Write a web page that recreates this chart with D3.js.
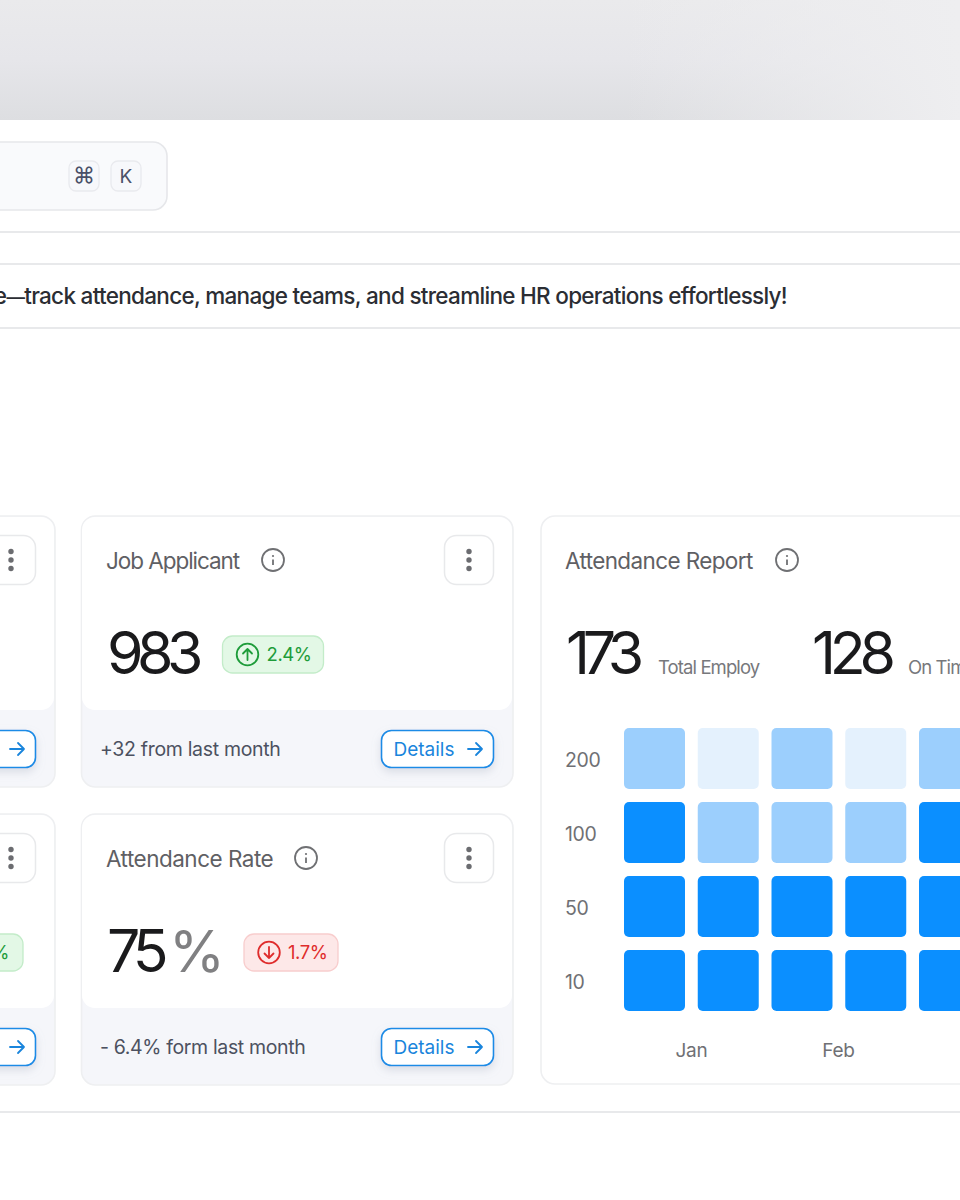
<!DOCTYPE html>
<html>
<head>
<meta charset="utf-8">
<script src="https://cdn.jsdelivr.net/npm/d3@7"></script>
<style>
  html, body { margin: 0; padding: 0; background: #fff; }
  svg { display: block; }
  text { font-family: Inter, "Noto Sans", sans-serif; }
</style>
</head>
<body>
<script>
// heatmap data: 0 = low, 1 = mid, 2 = high
const row_labels = ["200", "100", "50", "10"];
const col_index = [0, 1, 2, 3, 4];
const row_200 = [1, 0, 1, 0, 1];
const row_100 = [2, 1, 1, 1, 2];
const row_50 = [2, 2, 2, 2, 2];
const row_10 = [2, 2, 2, 2, 2];
const month_labels = ["Jan", "Feb"];

const width = 960, height = 1200;
const svg = d3.select("body").append("svg").attr("width", width).attr("height", height);
const defs = svg.append("defs");

// top grey band: darker towards the bottom, washed out at the right
const grad = defs.append("linearGradient").attr("id", "topband")
    .attr("x1", 0).attr("y1", 0).attr("x2", 0).attr("y2", 1);
grad.append("stop").attr("offset", "0%").attr("stop-color", "#eaeaec");
grad.append("stop").attr("offset", "50%").attr("stop-color", "#e6e6ea");
grad.append("stop").attr("offset", "100%").attr("stop-color", "#dddee1");
svg.append("rect").attr("width", width).attr("height", 120).attr("fill", "url(#topband)");

const wash = defs.append("linearGradient").attr("id", "topwash");
wash.append("stop").attr("offset", "65%").attr("stop-color", "#eeeef0").attr("stop-opacity", 0);
wash.append("stop").attr("offset", "100%").attr("stop-color", "#eeeef0").attr("stop-opacity", 1);
svg.append("rect").attr("width", width).attr("height", 120).attr("fill", "url(#topwash)");

const shadow = defs.append("filter").attr("id", "btnshadow")
    .attr("x", "-20%").attr("y", "-30%").attr("width", "140%").attr("height", "180%");
shadow.append("feDropShadow").attr("dx", 0).attr("dy", 4).attr("stdDeviation", 4)
    .attr("flood-color", "#9aa4b5").attr("flood-opacity", 0.3);

function label(x, y, str, size, color, spacing, weight) {
    return svg.append("text").attr("x", x).attr("y", y).text(str)
        .attr("font-size", size).attr("fill", color)
        .attr("letter-spacing", spacing || 0).attr("font-weight", weight || 400);
}

function hline(y) {
    svg.append("line").attr("x1", 0).attr("x2", width).attr("y1", y).attr("y2", y)
        .attr("stroke", "#e8e9eb").attr("stroke-width", 2);
}

function infoIcon(cx, cy) {
    const g = svg.append("g").attr("transform", `translate(${cx},${cy})`);
    g.append("circle").attr("r", 11).attr("fill", "none").attr("stroke", "#6f7073").attr("stroke-width", 1.8);
    g.append("circle").attr("cy", -4).attr("r", 1.1).attr("fill", "#6f7073");
    g.append("line").attr("y1", -0.5).attr("y2", 5).attr("stroke", "#6f7073").attr("stroke-width", 1.8);
}

function moreButton(x, y) {
    svg.append("rect").attr("x", x + 0.5).attr("y", y + 0.5).attr("width", 49).attr("height", 49).attr("rx", 12)
        .attr("fill", "#fff").attr("stroke", "#e8e9eb").attr("stroke-width", 1.5);
    [-8.5, 0, 8.5].forEach(d => {
        svg.append("circle").attr("cx", x + 25).attr("cy", y + 25 + d).attr("r", 2.7).attr("fill", "#6b6c70");
    });
}

function arrow(x, y, color) {
    svg.append("path").attr("d", `M${x - 7},${y} H${x + 7} M${x + 1},${y - 6} L${x + 7},${y} L${x + 1},${y + 6}`)
        .attr("fill", "none").attr("stroke", color).attr("stroke-width", 1.8)
        .attr("stroke-linecap", "round").attr("stroke-linejoin", "round");
}

function detailsButton(x, y) {
    svg.append("rect").attr("x", x + 0.5).attr("y", y + 0.5).attr("width", 112).attr("height", 37).attr("rx", 10)
        .attr("fill", "#fff").attr("stroke", "#1a8be6").attr("stroke-width", 1.6)
        .attr("filter", "url(#btnshadow)");
    label(x + 12.5, y + 26, "Details", 19, "#1a85dc", 0);
    arrow(x + 94, y + 19, "#1a85dc");
}

function badge(x, y, w, up, str) {
    const c = up ? {bg: "#e3f8e6", line: "#c3ecc9", ink: "#1e9c3a"} : {bg: "#fde8e8", line: "#f8cdcd", ink: "#df2c2c"};
    svg.append("rect").attr("x", x).attr("y", y).attr("width", w).attr("height", 37).attr("rx", 10)
        .attr("fill", c.bg).attr("stroke", c.line).attr("stroke-width", 1.3);
    const cx = x + 25, cy = y + 18.5;
    svg.append("circle").attr("cx", cx).attr("cy", cy).attr("r", 10.8)
        .attr("fill", "none").attr("stroke", c.ink).attr("stroke-width", 1.8);
    const s = up ? -1 : 1;
    svg.append("path").attr("d", `M${cx},${cy - 5.5 * s} V${cy + 5.5 * s} M${cx - 4.5},${cy + 1 * s} L${cx},${cy + 5.5 * s} L${cx + 4.5},${cy + 1 * s}`)
        .attr("fill", "none").attr("stroke", c.ink).attr("stroke-width", 1.8)
        .attr("stroke-linecap", "round").attr("stroke-linejoin", "round");
    label(x + 44, y + 25, str, 18.5, c.ink, -0.4);
}

// stat card: grey footer behind a white body
function card(x, y, w) {
    svg.append("rect").attr("x", x + 0.5).attr("y", y).attr("width", w - 0.5).attr("height", 271).attr("rx", 14)
        .attr("fill", "#f5f6fa").attr("stroke", "#eeeff1").attr("stroke-width", 1.6);
    svg.append("rect").attr("x", x + 1).attr("y", y + 1).attr("width", w - 2).attr("height", 193).attr("rx", 13)
        .attr("fill", "#fff");
}

// search box
svg.append("rect").attr("x", -40).attr("y", 142).attr("width", 207).attr("height", 68).attr("rx", 14)
    .attr("fill", "#f9fafc").attr("stroke", "#e6e7ea").attr("stroke-width", 1.6);
[[69, "⌘", 22], [111, "K", 19]].forEach(k => {
    svg.append("rect").attr("x", k[0]).attr("y", 161).attr("width", 30).attr("height", 30).attr("rx", 7)
        .attr("fill", "#f7f8fb").attr("stroke", "#e9eaee").attr("stroke-width", 1.3);
    label(k[0] + 15, 183, k[1], k[2], "#4a5068").attr("text-anchor", "middle");
});

hline(232);
hline(264);
hline(328);
hline(1112);

// headline runs off the left edge, the dash is narrower than Inter's own
const headline = label(787, 304, "", 22.5, "#2b2d33", -0.7, 500).attr("text-anchor", "end");
headline.append("tspan").text("Welcome");
headline.append("tspan").attr("font-size", 18.5).text("—");
headline.append("tspan").text("track attendance, manage teams, and streamline HR operations effortlessly!");

// left cards, mostly cut off by the frame
card(-300, 516, 355);
card(-300, 814, 355);
moreButton(-14, 535);
moreButton(-14, 833);
detailsButton(-77, 730);
detailsButton(-77, 1028);
badge(-80, 934, 103, true, "2.4%");

// Job Applicant card
card(81, 516, 432);
label(106, 569, "Job Applicant", 22.5, "#5f6064", -1.05);
infoIcon(273, 560);
moreButton(444, 535);
label(107, 674, "983", 59, "#1a1a1c", -6.5);
badge(222.5, 636, 101, true, "2.4%");
label(100, 756, "+32 from last month", 19.5, "#4c5160", -0.32);
detailsButton(381, 730);

// Attendance Rate card
card(81, 814, 432);
label(106, 867, "Attendance Rate", 22.5, "#5f6064", -0.5);
infoIcon(306, 858);
moreButton(444, 833);
label(107, 972, "75", 59, "#1a1a1c", -7);
label(169, 972, "%", 57, "#808082", -2);
badge(244, 934, 94, false, "1.7%");
label(100, 1054, "- 6.4% form last month", 19.5, "#4c5160", -0.36);
detailsButton(381, 1028);

// Attendance Report card
svg.append("rect").attr("x", 541).attr("y", 516).attr("width", 500).attr("height", 568).attr("rx", 14)
    .attr("fill", "#fff").attr("stroke", "#eeeff1").attr("stroke-width", 1.6);
label(565, 569, "Attendance Report", 22.5, "#5f6064", -0.62);
infoIcon(787, 560);
label(566, 674, "173", 59, "#1a1a1c", -7.3);
label(658, 674, "Total Employ", 18.5, "#77787c", -0.9);
label(812, 674, "128", 59, "#1a1a1c", -6.3);
label(908, 674, "On Time", 18.5, "#77787c", -0.9);

// heatmap
const rows = [row_200, row_100, row_50, row_10];
const x = d3.scaleBand().domain(col_index).range([624, 980]).paddingInner(0.173).paddingOuter(0).align(0);
const y = d3.scaleBand().domain(row_labels).range([728, 1011]).paddingInner(0.176).paddingOuter(0).align(0);
const color = d3.scaleOrdinal().domain([0, 1, 2]).range(["#e4f1fd", "#9ccffd", "#0b8fff"]);

const cells = rows.flatMap((r, i) => r.map((v, j) => ({row: row_labels[i], col: col_index[j], v: v})));
svg.append("g").selectAll("rect").data(cells).enter().append("rect")
    .attr("x", d => x(d.col))
    .attr("y", d => y(d.row))
    .attr("width", x.bandwidth())
    .attr("height", y.bandwidth())
    .attr("rx", 5)
    .attr("fill", d => color(d.v));

// y axis, labels are left aligned
const yAxis = svg.append("g").attr("transform", "translate(565,2)")
    .call(d3.axisLeft(y).tickSize(0).tickPadding(0));
yAxis.select(".domain").remove();
yAxis.selectAll("text").attr("text-anchor", "start").attr("font-size", 19.5).attr("fill", "#6f7074")
    .attr("font-family", "Inter").attr("letter-spacing", -0.4);

// x axis, one month spans two columns
const monthX = d3.scalePoint().domain(month_labels).range([691, 838]);
const xAxis = svg.append("g").attr("transform", "translate(0,1040)")
    .call(d3.axisBottom(monthX).tickSize(0).tickPadding(3));
xAxis.select(".domain").remove();
xAxis.selectAll("text").attr("font-size", 19).attr("fill", "#6f7074")
    .attr("font-family", "Inter").attr("letter-spacing", -0.3);
</script>
</body>
</html>
